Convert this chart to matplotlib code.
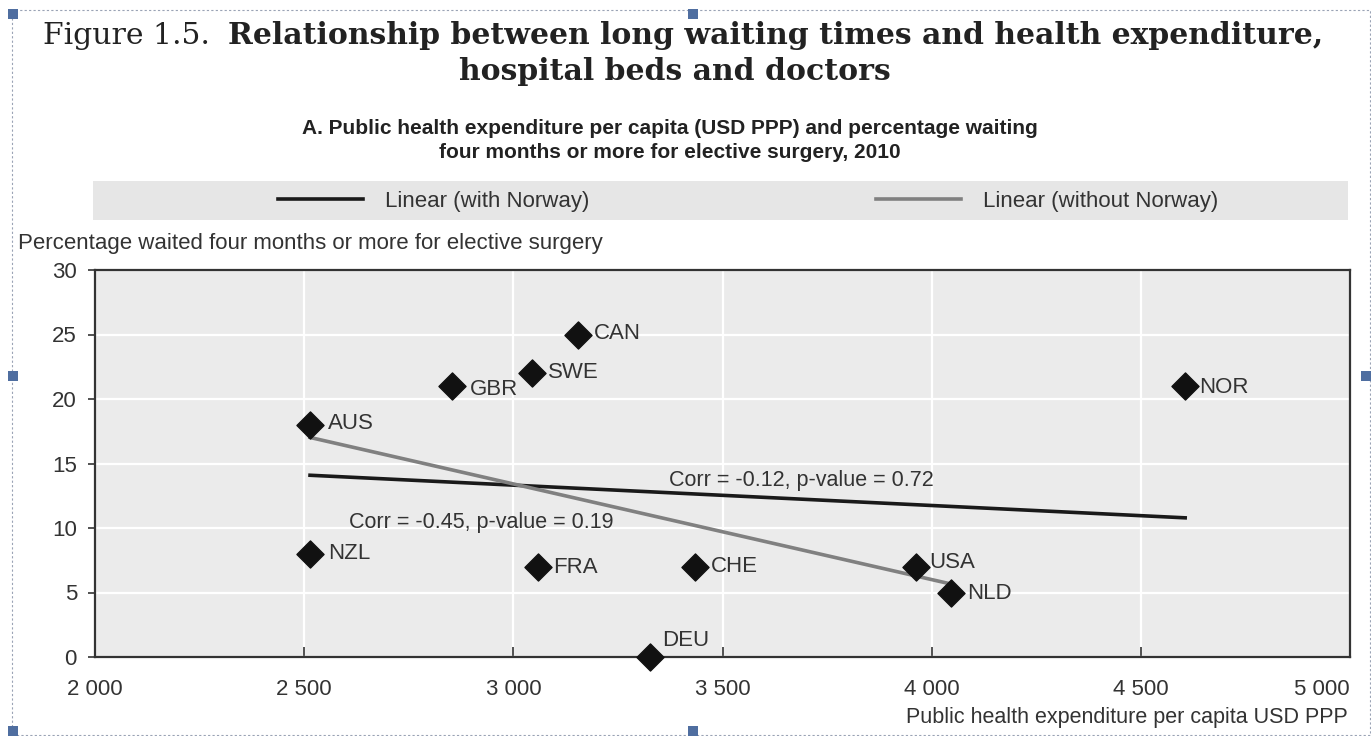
import matplotlib
matplotlib.use("Agg")
import matplotlib.pyplot as plt
from matplotlib.patches import Rectangle
from matplotlib.ticker import FuncFormatter
import numpy as np

# data
countries = ["AUS", "NZL", "GBR", "SWE", "CAN", "FRA", "CHE", "DEU", "USA", "NLD", "NOR"]
expenditure = [2514, 2514, 2853, 3045, 3155, 3059, 3434, 3327, 3963, 4046, 4606]
waiting_pct = [18, 8, 21, 22, 25, 7, 7, 0, 7, 5, 21]
# label offsets in pixels (dx, dy)
label_offsets = {"AUS": (18, 1), "NZL": (18, 0), "GBR": (18, -3), "SWE": (16, 1),
                 "CAN": (16, 1), "FRA": (15, -1), "CHE": (16, 0), "DEU": (12, 17),
                 "USA": (13, 4), "NLD": (16, -1), "NOR": (14, -1)}

corr_with = "Corr = -0.12, p-value = 0.72"
corr_without = "Corr = -0.45, p-value = 0.19"

sans = ["Liberation Sans", "DejaVu Sans"]
serif = ["DejaVu Serif"]
txt_col = "#333333"
fs = 16

W, H = 1371, 736
fig = plt.figure(figsize=(W / 100, H / 100), dpi=100)
fig.patch.set_facecolor("white")

def fx(px):
    return px / W

def fy(py):
    return 1 - py / H

ax = fig.add_axes([fx(95), fy(657), fx(1350) - fx(95), fy(270) - fy(657)])
ax.set_facecolor("#EBEBEB")

x = np.array(expenditure, dtype=float)
y = np.array(waiting_pct, dtype=float)

# linear fits, with and without Norway
m1, b1 = np.polyfit(x, y, 1)
xs1 = np.array([x.min(), x.max()])
mask = np.array([c != "NOR" for c in countries])
m2, b2 = np.polyfit(x[mask], y[mask], 1)
xs2 = np.array([x[mask].min(), x[mask].max()])

l1, = ax.plot(xs1, m1 * xs1 + b1, color="#1a1a1a", lw=2.6, zorder=3, label="Linear (with Norway)")
l2, = ax.plot(xs2, m2 * xs2 + b2, color="#808080", lw=2.6, zorder=3, label="Linear (without Norway)")

ax.scatter(x, y, marker="D", s=190, color="#111111", zorder=4, clip_on=False)
for c, xv, yv in zip(countries, x, y):
    dx, dy = label_offsets[c]
    ax.annotate(c, (xv, yv), xytext=(dx, dy), textcoords="offset pixels",
                ha="left", va="center", fontsize=fs, family=sans, color=txt_col, zorder=5)

ax.text(3372, 12.9, corr_with, ha="left", va="bottom", fontsize=15.5, family=sans, color=txt_col)
ax.text(2607, 9.6, corr_without, ha="left", va="bottom", fontsize=15.5, family=sans, color=txt_col)

ax.set_xlim(2000, 5000)
ax.set_ylim(0, 30)
ax.set_xticks(np.arange(2000, 5001, 500))
ax.set_yticks(np.arange(0, 31, 5))
ax.xaxis.set_major_formatter(FuncFormatter(lambda v, p: f"{int(v):,}".replace(",", " ")))
ax.grid(True, color="white", lw=1.6)
ax.set_axisbelow(True)
ax.tick_params(axis="x", direction="in", length=7, width=1.2, color="#333333", pad=16,
               labelsize=fs, labelcolor=txt_col)
ax.tick_params(axis="y", direction="out", length=5, width=1.2, color="#333333", pad=8,
               labelsize=fs, labelcolor=txt_col)
for lab in ax.get_xticklabels() + ax.get_yticklabels():
    lab.set_family(sans)
ax.get_xticklabels()[-1].set_ha("right")
for s in ax.spines.values():
    s.set_color("#333333")
    s.set_linewidth(1.6)

# axis titles
fig.text(fx(18), fy(244), "Percentage waited four months or more for elective surgery",
         ha="left", va="center", fontsize=fs, family=sans, color=txt_col)
fig.text(fx(1348), fy(718), "Public health expenditure per capita USD PPP",
         ha="right", va="center", fontsize=15.5, family=sans, color=txt_col)

# legend band
fig.patches.append(Rectangle((fx(93), fy(220)), fx(1348) - fx(93), fy(181) - fy(220),
                             transform=fig.transFigure, facecolor="#E6E6E6", edgecolor="none"))
fig.legend(handles=[l1, l2], loc="center", bbox_to_anchor=(fx(748), fy(201)), ncol=2,
           frameon=False, handlelength=3.83, handletextpad=1.0, columnspacing=12.9,
           prop={"family": sans, "size": fs}, labelcolor=txt_col)

# titles
fig.text(fx(43), fy(36), "Figure 1.5.", ha="left", va="center", fontsize=21.5, family=serif, color="#222222")
fig.text(fx(228), fy(36), "Relationship between long waiting times and health expenditure,",
         ha="left", va="center", fontsize=21.5, family=serif, weight="bold", color="#222222")
fig.text(fx(675), fy(72), "hospital beds and doctors", ha="center", va="center",
         fontsize=21.5, family=serif, weight="bold", color="#222222")
fig.text(fx(670), fy(129), "A. Public health expenditure per capita (USD PPP) and percentage waiting",
         ha="center", va="center", fontsize=15, family=sans, weight="bold", color="#222222")
fig.text(fx(670), fy(153), "four months or more for elective surgery, 2010",
         ha="center", va="center", fontsize=15, family=sans, weight="bold", color="#222222")

# page frame and selection handles
fig.patches.append(Rectangle((fx(12), fy(735)), fx(1370) - fx(12), fy(10) - fy(735),
                             transform=fig.transFigure, facecolor="none", edgecolor="#9aa3b5",
                             lw=0.8, ls=(0, (2, 2))))
for hx, hy in [(13, 14), (693, 14), (13, 376), (1366, 376), (13, 731), (693, 731)]:
    fig.patches.append(Rectangle((fx(hx - 5), fy(hy + 5)), fx(10), 10 / H,
                                 transform=fig.transFigure, facecolor="#4f6ea0", edgecolor="none"))

fig.savefig("out.png", dpi=100)
